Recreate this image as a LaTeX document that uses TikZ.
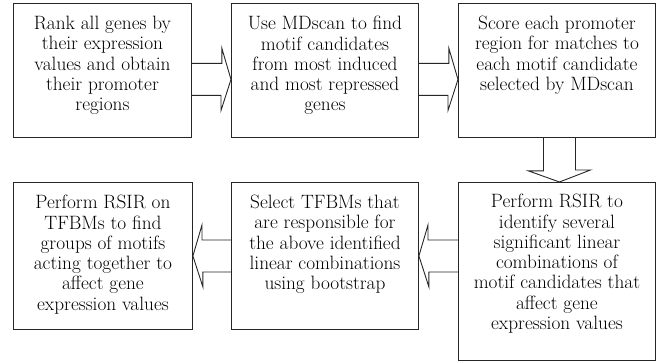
\documentclass[tikz,border=0pt]{standalone}
\usetikzlibrary{positioning,calc}

\tikzset{
  stepbox/.style={draw=black!85, line width=0.9pt, minimum height=134pt, anchor=north west, inner sep=0pt},
  steptext/.style={inner sep=0pt, align=center, font=\fontsize{19.3}{20.3}\selectfont},
  blockarrow/.style={draw=black!85, line width=0.9pt, line join=miter}
}

\begin{document}
\begin{tikzpicture}[x=1pt, y=1pt]
  \useasboundingbox (0,0) rectangle (660,362);
  % top row
  \node[stepbox, minimum width=178pt] (rank) at (13,359) {};
  \node[stepbox, minimum width=187pt] (motif) at (231,359) {};
  \node[stepbox, minimum width=197pt] (score) at (458,359) {};
  \node[steptext, below=13pt of rank.north] (ranktxt)
    {Rank all genes by\\their expression\\values and obtain\\their promoter\\regions};
  \node[steptext, below=13pt of motif.north] (motiftxt)
    {Use MDscan to find\\motif candidates\\from most induced\\and most repressed\\genes};
  \node[steptext, below=13pt of score.north] (scoretxt)
    {Score each promoter\\region for matches to\\each motif candidate\\selected by MDscan};
  % bottom row
  \node[stepbox, minimum width=179pt, minimum height=147pt] (rsir) at (13,180) {};
  \node[stepbox, minimum width=187pt, minimum height=147pt] (select) at (231,180) {};
  \node[stepbox, minimum width=197pt, minimum height=178pt] (perform) at (458,180) {};
  \node[steptext, below=13pt of rsir.north] (rsirtxt)
    {Perform RSIR on\\TFBMs to find\\groups of motifs\\acting together to\\affect gene\\expression values};
  \node[steptext, below=13pt of select.north] (selecttxt)
    {Select TFBMs that\\are responsible for\\the above identified\\linear combinations\\using bootstrap};
  \node[steptext, below=12pt of perform.north] (performtxt)
    {Perform RSIR to\\identify several\\significant linear\\combinations of\\motif candidates that\\affect gene\\expression values};
  % block arrows, top row
  \draw[blockarrow] ([yshift=-9pt]rank.east) ++(0,16) -- ++(30,0) -- ++(0,15)
    -- ([yshift=-9pt]motif.west) -- ++(-10,-31) -- ++(0,15) -- ++(-30,0);
  \draw[blockarrow] ([yshift=-9pt]motif.east) ++(0,16) -- ++(30,0) -- ++(0,15)
    -- ([yshift=-9pt]score.west) -- ++(-10,-31) -- ++(0,15) -- ++(-30,0);
  % block arrow down
  \draw[blockarrow] ([xshift=2.5pt]score.south) ++(-16,0) -- ++(0,-33) -- ++(-15,0)
    -- ([xshift=2.5pt]perform.north) -- ++(31,12) -- ++(-15,0) -- ++(0,33);
  % block arrows, bottom row
  \draw[blockarrow] (perform.west |- select.east) ++(0,16) -- ++(-30,0) -- ++(0,15)
    -- (select.east) -- ++(10,-31) -- ++(0,15) -- ++(30,0);
  \draw[blockarrow] (select.west) ++(0,16) -- ++(-29,0) -- ++(0,15)
    -- (rsir.east) -- ++(10,-31) -- ++(0,15) -- ++(29,0);
\end{tikzpicture}
\end{document}
